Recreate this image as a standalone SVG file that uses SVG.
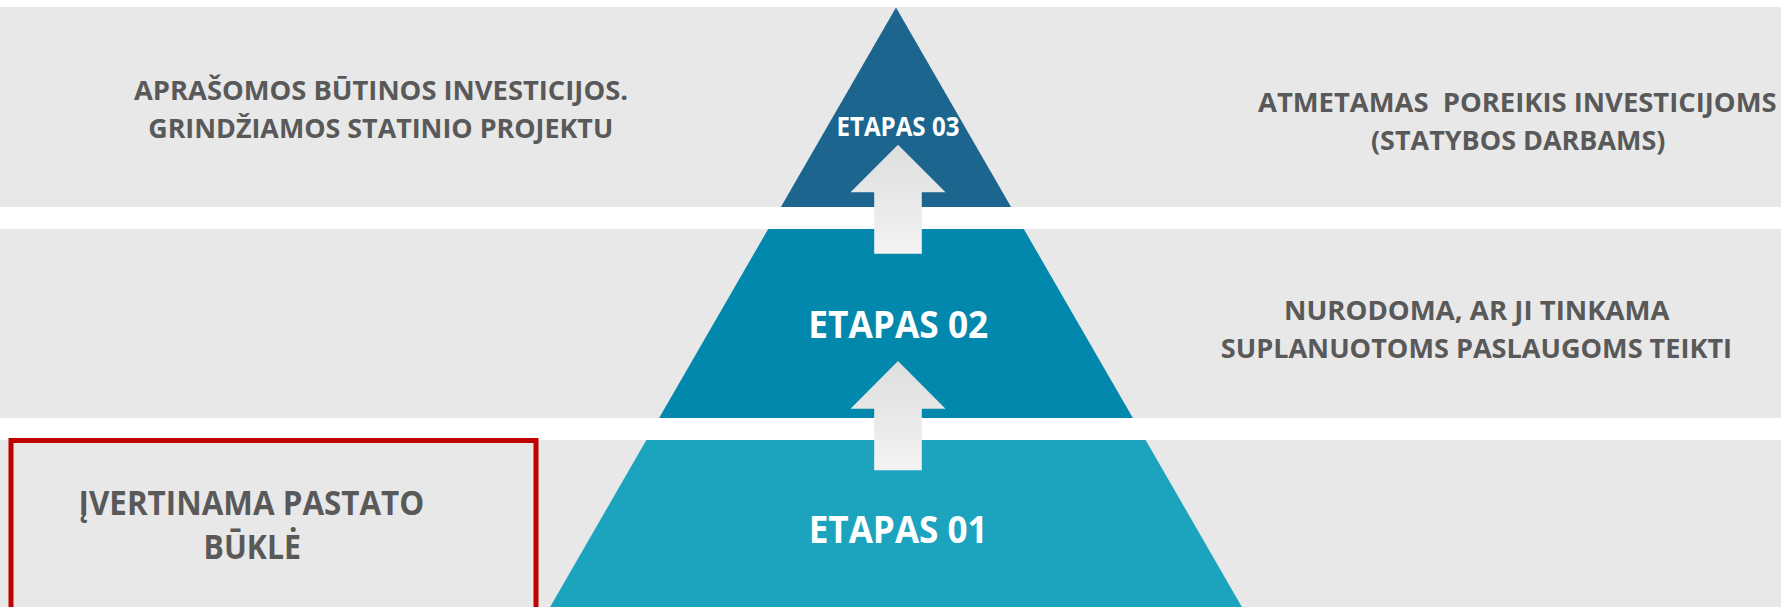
<svg xmlns="http://www.w3.org/2000/svg" width="1781" height="607" viewBox="0 0 1781 607">
<defs>
<style>
.band{fill:#E8E8E8}
.lbl{font-family:"Open Sans","Liberation Sans",sans-serif;font-weight:bold;fill:#595959;text-anchor:middle}
.stage{font-family:"Open Sans","Liberation Sans",sans-serif;font-weight:bold;fill:#FFFFFF;text-anchor:middle}
.arrow{fill:url(#ag)}
</style>
<linearGradient id="ag" x1="0" y1="0" x2="0" y2="1">
<stop offset="0" stop-color="#DEDEDE"/>
<stop offset="1" stop-color="#F3F3F3"/>
</linearGradient>
</defs>
<rect x="0" y="0" width="1781" height="607" fill="#FFFFFF"/>
<g id="bands">
<rect class="band" x="0" y="7" width="1781" height="200"/>
<rect class="band" x="0" y="229" width="1781" height="189"/>
<rect class="band" x="0" y="440" width="1781" height="167"/>
</g>
<g id="etapas03">
<polygon points="896,7.5 1011.1,207 780.9,207" fill="#1B658F"/>
<text class="stage" x="898" y="135.7" font-size="26.6" textLength="123" lengthAdjust="spacingAndGlyphs">ETAPAS 03</text>
</g>
<g id="etapas02">
<polygon points="768.2,229 1023.8,229 1132.9,418 659.1,418" fill="#0388AD"/>
<text class="stage" x="898.3" y="337.7" font-size="37.4" textLength="180" lengthAdjust="spacingAndGlyphs">ETAPAS 02</text>
</g>
<g id="etapas01">
<polygon points="646.4,440 1145.6,440 1241.9,607 550.1,607" fill="#1CA4BF"/>
<text class="stage" x="898.2" y="542.7" font-size="37.4" textLength="179" lengthAdjust="spacingAndGlyphs">ETAPAS 01</text>
</g>
<g id="connectors">
<polygon class="arrow" points="898,144.7 945.5,192.3 921.8,192.3 921.8,253.8 874.2,253.8 874.2,192.3 850.5,192.3"/>
<polygon class="arrow" points="898,361 945.5,408.7 921.8,408.7 921.8,470.3 874.2,470.3 874.2,408.7 850.5,408.7"/>
</g>
<g id="note03">
<text class="lbl" x="381" y="100" font-size="27.3" textLength="494" lengthAdjust="spacingAndGlyphs">APRAŠOMOS BŪTINOS INVESTICIJOS.</text>
<text class="lbl" x="380.7" y="137.5" font-size="27.3" textLength="465" lengthAdjust="spacingAndGlyphs">GRINDŽIAMOS STATINIO PROJEKTU</text>
</g>
<g id="result03">
<text class="lbl" x="1517.3" y="112.3" font-size="27.3" textLength="518.6" lengthAdjust="spacingAndGlyphs" xml:space="preserve">ATMETAMAS  POREIKIS INVESTICIJOMS</text>
<text class="lbl" x="1518.2" y="150" font-size="27.3" textLength="294.5" lengthAdjust="spacingAndGlyphs">(STATYBOS DARBAMS)</text>
</g>
<g id="note02">
<text class="lbl" x="1476.8" y="320" font-size="27.3" textLength="385.6" lengthAdjust="spacingAndGlyphs">NURODOMA, AR JI TINKAMA</text>
<text class="lbl" x="1476.4" y="357.7" font-size="27.3" textLength="511.3" lengthAdjust="spacingAndGlyphs">SUPLANUOTOMS PASLAUGOMS TEIKTI</text>
</g>
<g id="note01">
<rect x="11" y="440.5" width="525" height="175" fill="none" stroke="#C00000" stroke-width="5"/>
<text class="lbl" x="251.4" y="515" font-size="33.6" textLength="345.7" lengthAdjust="spacingAndGlyphs">ĮVERTINAMA PASTATO</text>
<text class="lbl" x="252.3" y="559" font-size="33.6" textLength="97.4" lengthAdjust="spacingAndGlyphs">BŪKLĖ</text>
</g>
</svg>
